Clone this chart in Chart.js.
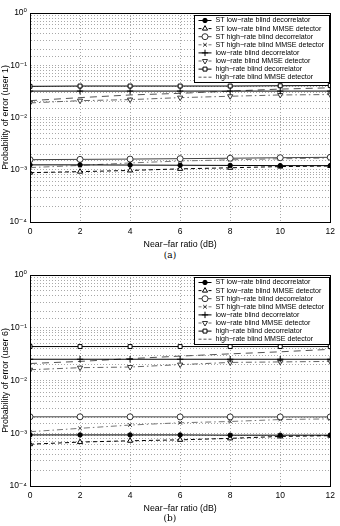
<!DOCTYPE html>
<html>
<head>
<meta charset="utf-8">
<script src="https://cdn.jsdelivr.net/npm/chart.js@4"></script>
<style>
body { margin: 0; background: #fff; width: 340px; height: 526px; position: relative; overflow: hidden; }
.plot { position: absolute; left: 0; width: 340px; }
.cap { position: absolute; left: 0; width: 340px; text-align: center; font-family: "DejaVu Serif", serif; font-size: 9px; line-height: 11px; }
</style>
</head>
<body>
<div class="plot" style="top:0;height:250px"><canvas id="chartA"></canvas></div>
<div class="cap" style="top:250px">(a)</div>
<div class="plot" style="top:262px;height:252px"><canvas id="chartB"></canvas></div>
<div class="cap" style="top:513px">(b)</div>
<script>
const nearFar = [0, 2, 4, 6, 8, 10, 12];
const xTicks = [0, 2, 4, 6, 8, 10, 12];
const yTickValues = [1e-4, 1e-3, 1e-2, 1e-1, 1];
const yTickLabels = ['10\u207B\u2074', '10\u207B\u00B3', '10\u207B\u00B2', '10\u207B\u00B9', '10\u2070'];

const seriesNames = [
    'ST low\u2212rate blind decorrelator',
    'ST low\u2212rate blind MMSE detector',
    'ST high\u2212rate blind decorrelator',
    'ST high\u2212rate blind MMSE detector',
    'low\u2212rate blind decorrelator',
    'low\u2212rate blind MMSE detector',
    'high\u2212rate blind decorrelator',
    'high\u2212rate blind MMSE detector'
];

// user 1
const u1StLowDec   = [0.00124, 0.00124, 0.00123, 0.00122, 0.00121, 0.0012, 0.0012];
const u1StLowMmse  = [0.00088, 0.00092, 0.00097, 0.00104, 0.00109, 0.00115, 0.00118];
const u1StHighDec  = [0.00156, 0.00158, 0.0016, 0.00163, 0.00166, 0.0017, 0.00173];
const u1StHighMmse = [0.0011, 0.00121, 0.00135, 0.00147, 0.00155, 0.00162, 0.00168];
const u1LowDec     = [0.032, 0.032, 0.032, 0.032, 0.032, 0.032, 0.032];
const u1LowMmse    = [0.019, 0.021, 0.022, 0.024, 0.0255, 0.027, 0.0275];
const u1HighDec    = [0.0395, 0.04, 0.04, 0.04, 0.04, 0.0405, 0.041];
const u1HighMmse   = [0.021, 0.024, 0.027, 0.029, 0.032, 0.035, 0.037];

// user 6
const u6StLowDec   = [0.00093, 0.00093, 0.00093, 0.00093, 0.00092, 0.00092, 0.00092];
const u6StLowMmse  = [0.00062, 0.00068, 0.00072, 0.00075, 0.0008, 0.00087, 0.0009];
const u6StHighDec  = [0.00205, 0.00205, 0.00205, 0.00204, 0.00204, 0.00204, 0.00204];
const u6StHighMmse = [0.00107, 0.00124, 0.00143, 0.00158, 0.00167, 0.00182, 0.00187];
const u6LowDec     = [0.0253, 0.0253, 0.0253, 0.0253, 0.0253, 0.0253, 0.0253];
const u6LowMmse    = [0.016, 0.0175, 0.018, 0.02, 0.022, 0.0225, 0.023];
const u6HighDec    = [0.044, 0.044, 0.044, 0.044, 0.044, 0.044, 0.044];
const u6HighMmse   = [0.021, 0.023, 0.026, 0.029, 0.032, 0.035, 0.039];

const styles = [
    { color: '#000', dash: [], point: 'circle', fill: '#000', r: 2.2 },
    { color: '#000', dash: [4, 3], point: 'triangle', fill: '#fff', r: 3 },
    { color: '#444', dash: [], point: 'circle', fill: '#fff', r: 3 },
    { color: '#777', dash: [6, 3, 1.5, 3], point: 'crossRot', fill: '#fff', r: 2.5 },
    { color: '#000', dash: [], point: 'cross', fill: '#fff', r: 3.2 },
    { color: '#666', dash: [6, 3, 1.5, 3], point: 'triangle', rot: 180, fill: '#fff', r: 3 },
    { color: '#000', dash: [], point: 'rect', fill: '#fff', r: 2.8 },
    { color: '#555', dash: [7, 5], point: false, fill: '#fff', r: 0 }
];

const fontFam = '"Liberation Sans", Arial, "DejaVu Sans", sans-serif';

const frameBox = {
    id: 'frameBox',
    afterDatasetsDraw(chart) {
        const { ctx, chartArea: a } = chart;
        ctx.save();
        ctx.strokeStyle = '#000';
        ctx.lineWidth = 1;
        ctx.strokeRect(Math.round(a.left) + 0.5, Math.round(a.top) + 0.5, Math.round(a.right - a.left), Math.round(a.bottom - a.top));
        ctx.restore();
    }
};

const boxLegend = {
    id: 'boxLegend',
    afterDraw(chart) {
        const { ctx, chartArea } = chart;
        const w = 135, h = 67, rowH = 8.1;
        const x0 = Math.round(chartArea.right - w - 1) + 0.5;
        const y0 = Math.round(chartArea.top + 2) + 0.5;
        ctx.save();
        ctx.fillStyle = '#fff';
        ctx.fillRect(x0, y0, w, h);
        ctx.strokeStyle = '#000';
        ctx.lineWidth = 1;
        ctx.strokeRect(x0, y0, w, h);
        ctx.font = '7.1px ' + fontFam;
        ctx.textBaseline = 'middle';
        chart.data.datasets.forEach((ds, i) => {
            const y = y0 + 5 + i * rowH;
            ctx.strokeStyle = ds.borderColor;
            ctx.lineWidth = ds.borderWidth;
            ctx.setLineDash(ds.borderDash.length ? [3, 2] : []);
            ctx.beginPath();
            ctx.moveTo(x0 + 4, y);
            ctx.lineTo(x0 + 17, y);
            ctx.stroke();
            ctx.setLineDash([]);
            if (ds.pointStyle) {
                ctx.fillStyle = ds.pointBackgroundColor;
                ctx.strokeStyle = ds.pointBorderColor;
                ctx.lineWidth = 1;
                Chart.helpers.drawPoint(ctx, { pointStyle: ds.pointStyle, radius: ds.pointRadius, rotation: ds.pointRotation, borderWidth: 1 }, x0 + 10.5, y);
            }
            ctx.fillStyle = '#000';
            ctx.fillText(ds.label, x0 + 21, y);
        });
        ctx.restore();
    }
};

function makeChart(id, series, yTitle, padTop) {
    return new Chart(document.getElementById(id), {
        type: 'line',
        data: {
            labels: nearFar,
            datasets: series.map((vals, i) => ({
                label: seriesNames[i],
                data: nearFar.map((x, j) => ({ x: x, y: vals[j] })),
                borderColor: styles[i].color,
                borderWidth: 1,
                borderDash: styles[i].dash,
                pointStyle: styles[i].point,
                pointRotation: styles[i].rot || 0,
                pointRadius: styles[i].r,
                pointBorderColor: styles[i].color === '#000' ? '#000' : '#333',
                pointBackgroundColor: styles[i].fill,
                pointBorderWidth: 1,
                tension: 0,
                fill: false
            }))
        },
        options: {
            responsive: true,
            maintainAspectRatio: false,
            animation: false,
            layout: { padding: { top: padTop, right: 7, left: 0, bottom: 0 } },
            plugins: { legend: { display: false }, tooltip: { enabled: false } },
            scales: {
                x: {
                    type: 'linear',
                    min: 0,
                    max: 12,
                    afterBuildTicks: s => { s.ticks = xTicks.map(v => ({ value: v })); },
                    afterFit: s => { s.height = 28; },
                    grid: { color: '#a8a8a8', drawTicks: false },
                    border: { color: '#000', dash: [1, 2] },
                    ticks: { color: '#000', font: { family: fontFam, size: 8.5 }, padding: 5, maxRotation: 0 },
                    title: { display: true, text: 'Near\u2212far ratio (dB)', color: '#000', font: { family: fontFam, size: 8.8 }, padding: { top: 1, bottom: 0 } }
                },
                y: {
                    type: 'logarithmic',
                    min: 1e-4,
                    max: 1,
                    afterFit: s => { s.width = 30; },
                    grid: { color: '#a8a8a8', drawTicks: false },
                    border: { color: '#000', dash: [1, 2] },
                    ticks: {
                        autoSkip: false,
                        color: '#000',
                        font: { family: fontFam, size: 8.5 },
                        padding: 3,
                        callback: v => {
                            const k = yTickValues.findIndex(t => Math.abs(t - v) / t < 1e-6);
                            return k >= 0 ? yTickLabels[k] : '';
                        }
                    },
                    title: { display: true, text: yTitle, color: '#000', font: { family: fontFam, size: 8.8 }, padding: { top: 0, bottom: 0 } }
                }
            }
        },
        plugins: [frameBox, boxLegend]
    });
}

makeChart('chartA', [u1StLowDec, u1StLowMmse, u1StHighDec, u1StHighMmse, u1LowDec, u1LowMmse, u1HighDec, u1HighMmse], 'Probability of error (user 1)', 13);
makeChart('chartB', [u6StLowDec, u6StLowMmse, u6StHighDec, u6StHighMmse, u6LowDec, u6LowMmse, u6HighDec, u6HighMmse], 'Probability of error (user 6)', 13);
</script>
</body>
</html>
